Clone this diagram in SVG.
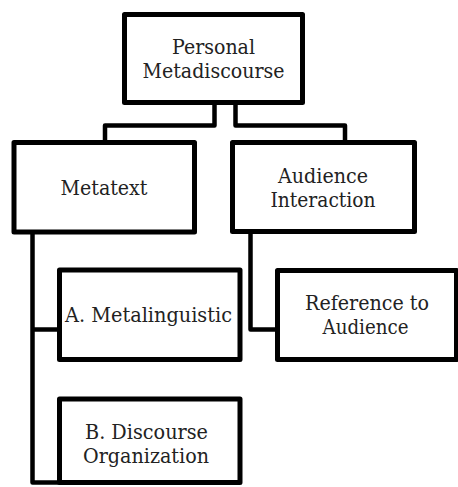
<svg xmlns="http://www.w3.org/2000/svg" width="458" height="487" viewBox="0 0 458 487">
<style>
.box{fill:#fff;stroke:#000;stroke-width:5;stroke-linejoin:round}
.conn{fill:none;stroke:#000;stroke-width:4.5;stroke-linejoin:round}
.t{font-family:'DejaVu Serif',serif;font-size:21px;fill:#222;text-anchor:middle}
</style>
<rect width="458" height="487" fill="#fff"/>
<g id="connectors">
<path class="conn" d="M214.5,105 V125.5 H105 V140"/>
<path class="conn" d="M235.5,105 V125.5 H345 V140"/>
<path class="conn" d="M32.5,234 V482.5 H59"/>
<path class="conn" d="M32.5,329.5 H59"/>
<path class="conn" d="M250.5,233 V329.5 H277"/>
</g>
<g id="personal">
<rect class="box" x="124.5" y="14.5" width="178" height="88"/>
<text class="t" x="213.5" y="54" textLength="83" lengthAdjust="spacingAndGlyphs">Personal</text>
<text class="t" x="213.5" y="78" textLength="142" lengthAdjust="spacingAndGlyphs">Metadiscourse</text>
</g>
<g id="metatext">
<rect class="box" x="14" y="142.5" width="180.5" height="89.5"/>
<text class="t" x="104" y="195" textLength="87" lengthAdjust="spacingAndGlyphs">Metatext</text>
</g>
<g id="audience">
<rect class="box" x="232.5" y="142.5" width="182" height="89"/>
<text class="t" x="323" y="183" textLength="90" lengthAdjust="spacingAndGlyphs">Audience</text>
<text class="t" x="323" y="207" textLength="105" lengthAdjust="spacingAndGlyphs">Interaction</text>
</g>
<g id="metalinguistic">
<rect class="box" x="59.5" y="270" width="180.5" height="89.5"/>
<text class="t" x="148.5" y="322" textLength="167" lengthAdjust="spacingAndGlyphs">A. Metalinguistic</text>
</g>
<g id="reference">
<rect class="box" x="277.5" y="270.5" width="179" height="89"/>
<text class="t" x="367" y="310" textLength="124" lengthAdjust="spacingAndGlyphs">Reference to</text>
<text class="t" x="365.5" y="334" textLength="86" lengthAdjust="spacingAndGlyphs">Audience</text>
</g>
<g id="discourse">
<rect class="box" x="59.5" y="399" width="180.5" height="83.5"/>
<text class="t" x="146.5" y="439" textLength="123" lengthAdjust="spacingAndGlyphs">B. Discourse</text>
<text class="t" x="146" y="463" textLength="126" lengthAdjust="spacingAndGlyphs">Organization</text>
</g>
</svg>
